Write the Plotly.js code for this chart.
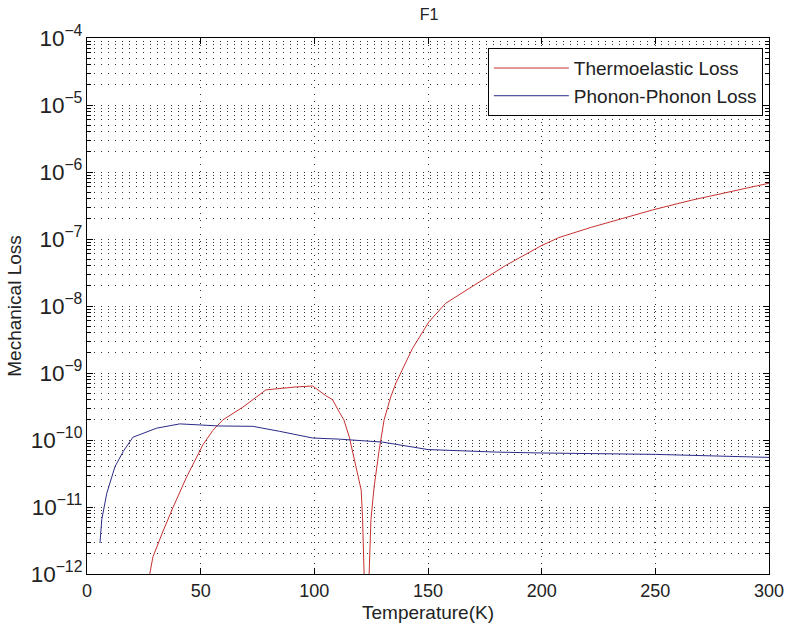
<!DOCTYPE html>
<html>
<head>
<meta charset="utf-8">
<script src="https://cdn.plot.ly/plotly-3.0.1.min.js"></script>
<style>html,body{margin:0;padding:0;background:#fff;}#chart{width:785px;height:632px;}</style>
</head>
<body>
<div id="chart"></div>
<script>
const thermoT = [27.6, 29, 33, 37.8, 43.8, 49.6, 51, 55.4, 59.8, 68.6, 74.4, 78.7, 92, 99.3, 105, 108, 111, 113, 115.4, 116.7, 120.6, 121.2, 121.9, 123, 124.1, 124.9, 126.3, 128.5, 130.7, 133.6, 136, 138, 143.1, 150.4, 157.8, 169.4, 184, 199.7, 207.5, 222, 236.7, 249.4, 266, 280.6, 297.4, 300];
const thermoLoss = [1e-12, 1.8e-12, 4e-12, 9.8e-12, 2.8e-11, 7.1e-11, 8.5e-11, 1.4e-10, 2.0e-10, 3.1e-10, 4.3e-10, 5.6e-10, 6.2e-10, 6.4e-10, 4.6e-10, 4.0e-10, 2.6e-10, 2.0e-10, 1.1e-10, 7e-11, 1.8e-11, 7e-12, 1e-12, 1e-16, 1e-12, 6.5e-12, 2e-11, 7e-11, 2e-10, 4.4e-10, 7.2e-10, 1.0e-9, 2.3e-9, 5.8e-9, 1.1e-8, 1.95e-8, 4.0e-8, 7.9e-8, 1.05e-7, 1.5e-7, 2.1e-7, 2.75e-7, 3.8e-7, 4.9e-7, 6.6e-7, 6.8e-7];
const phononT = [5.7, 6.5, 8.7, 11.5, 12.3, 16, 20.2, 30.6, 40.8, 58, 72.9, 84.6, 99.3, 111, 130, 150, 180, 200, 250, 300];
const phononLoss = [2.9e-12, 6.5e-12, 1.6e-11, 3.2e-11, 4e-11, 6.8e-11, 1.1e-10, 1.5e-10, 1.74e-10, 1.62e-10, 1.6e-10, 1.35e-10, 1.07e-10, 1.03e-10, 9.3e-11, 7.2e-11, 6.6e-11, 6.4e-11, 6.1e-11, 5.5e-11];
const seriesNames = ["Thermoelastic Loss", "Phonon-Phonon Loss"];
const xTicks = [0, 50, 100, 150, 200, 250, 300];

const font = "Liberation Sans, Arial, sans-serif";
const traces = [
  {x: thermoT, y: thermoLoss, name: seriesNames[0], mode: "lines", line: {color: "#c83030", width: 1}},
  {x: phononT, y: phononLoss, name: seriesNames[1], mode: "lines", line: {color: "#2a2a88", width: 1}}
];
const layout = {
  width: 785, height: 632,
  margin: {l: 87, r: 16, t: 38, b: 58},
  paper_bgcolor: "#fff", plot_bgcolor: "#fff",
  font: {family: font, color: "#222", size: 14},
  title: {text: "F1", x: 0.5465, xanchor: "center", y: 0.978, yanchor: "middle", font: {size: 16, family: font, color: "#222"}},
  showlegend: true,
  legend: {x: 0.991, xanchor: "right", y: 0.981, yanchor: "top", bgcolor: "#fff", bordercolor: "#000", borderwidth: 1,
           font: {size: 19, family: font, color: "#222"}, tracegroupgap: 0, itemwidth: 75},
  xaxis: {
    range: [0, 300], tickvals: xTicks, ticktext: xTicks.map(String),
    ticks: "inside", ticklen: 6, tickcolor: "#000", mirror: "ticks",
    showline: true, linecolor: "#000", linewidth: 1,
    showgrid: true, gridcolor: "#333", griddash: "1px,6px", gridwidth: 1,
    zeroline: false,
    tickfont: {size: 18, family: font, color: "#222"},
    title: {text: "Temperature(K)", font: {size: 19, family: font, color: "#222"}, standoff: 6}
  },
  yaxis: {
    type: "log", range: [-12, -4], dtick: 1, exponentformat: "power",
    ticks: "inside", ticklen: 6, tickcolor: "#000", mirror: "allticks",
    showline: true, linecolor: "#000", linewidth: 1,
    showgrid: true, gridcolor: "#333", griddash: "1px,6px", gridwidth: 1,
    zeroline: false,
    tickfont: {size: 18, family: font, color: "#222"},
    minor: {dtick: "D1", ticks: "inside", ticklen: 4, tickcolor: "#000", showgrid: true, gridcolor: "#333", griddash: "1px,6px", gridwidth: 1},
    title: {text: "Mechanical Loss", font: {size: 19, family: font, color: "#222"}, standoff: 4}
  }
};
Plotly.newPlot("chart", traces, layout, {displayModeBar: false, staticPlot: true});
</script>
</body>
</html>
